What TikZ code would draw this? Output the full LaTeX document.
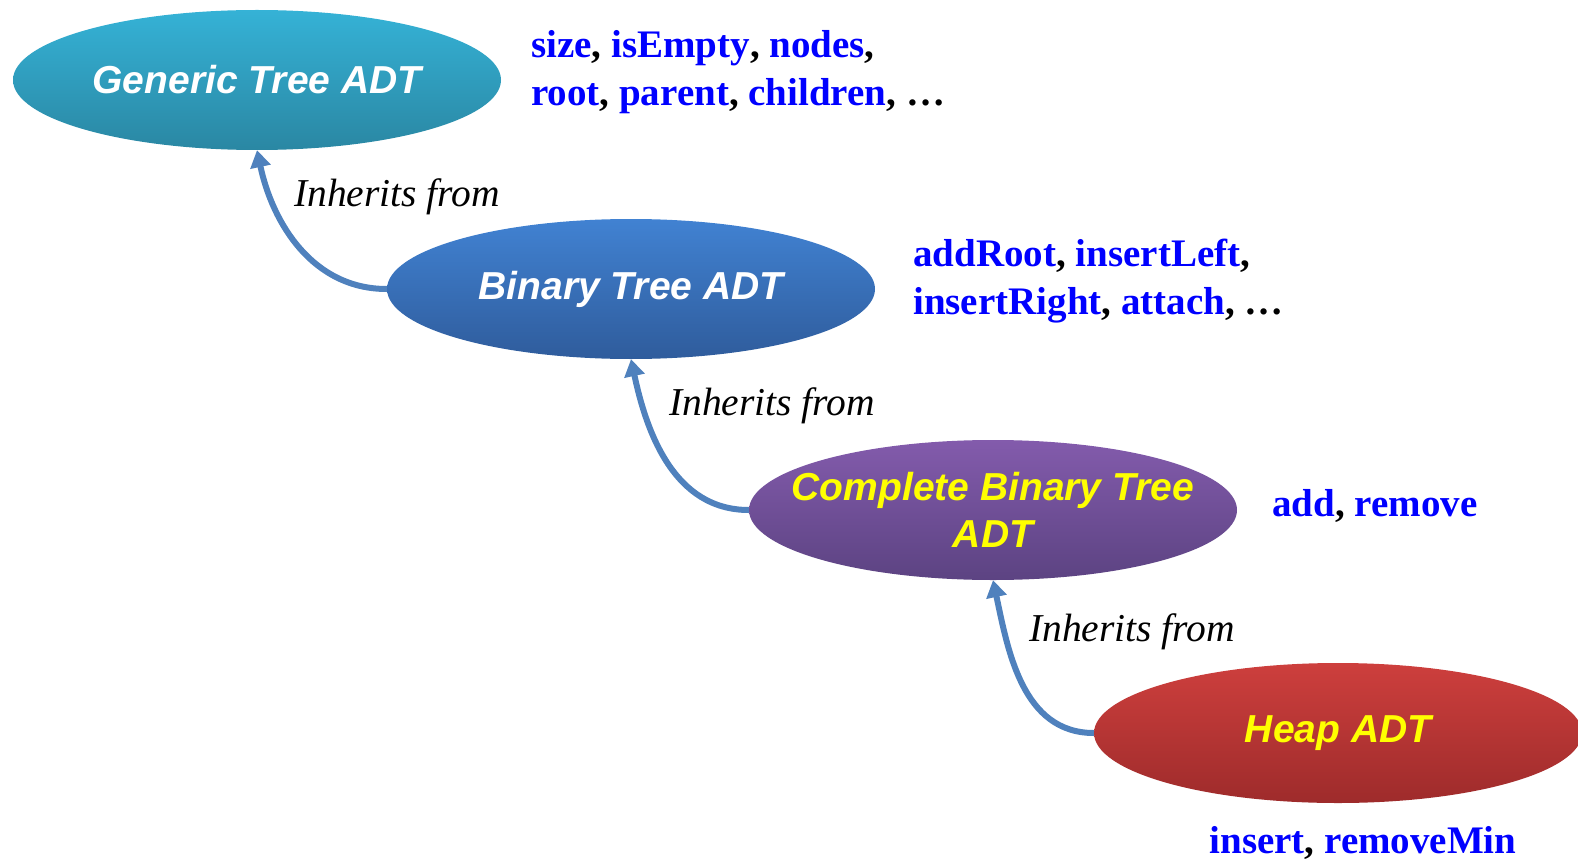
\documentclass[tikz,border=0pt]{standalone}
\usepackage{fontspec}
\setmainfont{Liberation Serif}
\newfontfamily\arialf{Liberation Sans}
\usetikzlibrary{shapes.geometric,arrows.meta}
\definecolor{arrowblue}{HTML}{4F81BD}
\definecolor{opblue}{HTML}{0000FF}
\definecolor{txtyellow}{HTML}{FFFF00}
\definecolor{genT}{HTML}{35B2D6}
\definecolor{genB}{HTML}{2A87A3}
\definecolor{binT}{HTML}{4182D2}
\definecolor{binB}{HTML}{2F5C9C}
\definecolor{cbtT}{HTML}{835BAC}
\definecolor{cbtB}{HTML}{5C4382}
\definecolor{heapT}{HTML}{CD3F3D}
\definecolor{heapB}{HTML}{9E2B2B}
\newcommand{\bc}{\textcolor{black}}
\tikzset{
  adt/.style={ellipse, minimum width=488pt, minimum height=140pt, inner sep=0pt,
    font=\arialf\bfseries\itshape\fontsize{39}{47}\selectfont, align=center},
  ops/.style={font=\bfseries\fontsize{39}{48.5}\selectfont, text=opblue, anchor=west, align=left, inner sep=0pt},
  inh/.style={font=\itshape\fontsize{39.5}{44}\selectfont, anchor=west, inner sep=0pt},
  inharrow/.style={draw=arrowblue, line width=6pt, -{Triangle[width=20pt,length=17pt]}}
}
\begin{document}
\begin{tikzpicture}[x=1pt,y=-1pt]
\useasboundingbox (0,0) rectangle (1578,861);
\begin{scope}
\clip (0,0) rectangle (1578,861);
\node[adt, top color=genT, bottom color=genB, text=white] (gen) at (257,80) {Generic Tree ADT};
\node[adt, top color=binT, bottom color=binB, text=white] (bin) at (631,289) {Binary Tree ADT};
\node[adt, top color=cbtT, bottom color=cbtB, text=txtyellow, inner xsep=-45pt] (cbt) at (993,510) {Complete Binary Tree\\ADT};
\node[adt, top color=heapT, bottom color=heapB, text=txtyellow] (heap) at (1338,733) {Heap ADT};
\end{scope}
\node[ops] (o1) at (531,72) {size\bc{,} isEmpty\bc{,} nodes\bc{,}\\root\bc{,} parent\bc{,} children\bc{, \ldots}};
\node[ops] (o2) at (913,281) {addRoot\bc{,} insertLeft\bc{,}\\insertRight\bc{,} attach\bc{, \ldots}};
\node[ops] (o3) at (1272,506) {add\bc{,} remove};
\node[ops, anchor=center] (o4) at (1363,843) {insert\bc{,} removeMin};
\node[inh] (i1) at (294,197) {Inherits from};
\node[inh] (i2) at (669,406) {Inherits from};
\node[inh] (i3) at (1029,632) {Inherits from};
\draw[inharrow] (bin.west) to[out=180,in=-78] (gen.south);
\draw[inharrow] (cbt.west) to[out=180,in=-78] (bin.south);
\draw[inharrow] (heap.west) to[out=180,in=-78] (cbt.south);
\end{tikzpicture}
\end{document}
